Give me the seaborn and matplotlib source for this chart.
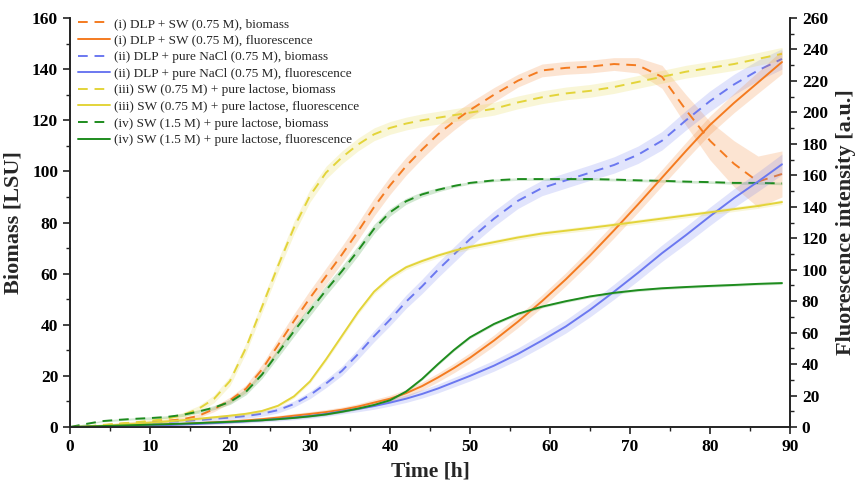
import numpy as np
import pandas as pd
import seaborn as sns
import matplotlib.pyplot as plt
from matplotlib.ticker import MultipleLocator

# time [h]
t = [0, 2, 4, 6, 8, 10, 12, 14, 16, 18, 20, 22, 24, 26, 28, 30, 32, 34, 36, 38,
     40, 42, 44, 46, 48, 50, 53, 56, 59, 62, 65, 68, 71, 74, 77, 80, 83, 86, 89]

# biomass [LSU] (left axis)
bio_i = [0, 0.2, 0.6, 1.2, 1.6, 1.9, 2.4, 3, 4.3, 7, 10.5, 15, 22.5, 32, 41.5, 50.5, 59, 67.5, 76.5, 86,
         94.5, 102, 108.5, 114.5, 119.5, 124, 130, 135.5, 139.5, 140.5, 141, 142, 141.5, 137, 124, 112, 103, 96, 99]
bio_ii = [0, 0.1, 0.4, 0.9, 1.3, 1.7, 2, 2.3, 2.7, 3.2, 3.7, 4.3, 5.2, 6.6, 9, 12.5, 17, 22, 28.5, 35.5,
          42, 49, 55, 61.5, 67.5, 73.5, 81.5, 88.5, 93.5, 96.5, 99.5, 102.5, 106.5, 112, 120, 127.5, 134, 139.5, 144]
bio_iii = [0, 0.2, 0.8, 1.3, 1.8, 2.4, 3.2, 4.6, 7, 11, 18, 31, 47, 63, 78, 90.5, 99.5, 105.5, 110.5, 114.5,
           117, 118.7, 120, 121, 122, 123, 124.5, 127, 129, 130.5, 131.5, 133, 135, 137, 139, 140.5, 142, 144, 146]
bio_iv = [0, 1.2, 2.3, 2.8, 3.2, 3.5, 3.9, 4.7, 6, 7.6, 9.8, 13.8, 20.5, 29, 37.5, 45.5, 53.5, 61, 69, 77.5,
          84, 88.3, 91, 92.8, 94.3, 95.5, 96.5, 97, 97, 97, 97, 96.8, 96.5, 96.3, 96, 95.8, 95.5, 95.5, 95.3]

# fluorescence [a.u.] (right axis)
fl_i = [0, 0.1, 0.3, 0.6, 0.9, 1.2, 1.6, 2, 2.5, 3, 3.5, 4.2, 5, 6, 7.2, 8.3, 9.5, 11, 13, 15.5,
        18, 21.5, 26, 31.5, 37.5, 44, 55, 67, 80, 94, 109, 125, 141.5, 158.5, 175.5, 192, 206, 219, 232]
fl_ii = [0, 0.1, 0.2, 0.4, 0.6, 0.9, 1.2, 1.6, 2, 2.5, 3, 3.6, 4.3, 5.1, 6, 7, 8.3, 10, 11.5, 13.3,
         15.5, 18, 21, 24.5, 28.5, 32.5, 39, 46.5, 55, 64, 74.5, 86, 98, 110.5, 122, 134, 145.5, 156, 167]
fl_iii = [0, 0.3, 0.8, 1.3, 2, 2.8, 3.5, 4.3, 5.2, 6.2, 7.2, 8.4, 10.2, 13.5, 19.5, 29, 43, 58, 73, 86,
          95, 101.5, 105.5, 109, 112, 114.5, 117.5, 120.5, 123, 124.8, 126.6, 128.5, 130.5, 132.5, 134.5, 136.5, 138.5, 140.5, 143]
fl_iv = [0, 0.3, 0.6, 0.9, 1.2, 1.5, 1.8, 2.1, 2.5, 2.9, 3.3, 3.8, 4.3, 5, 5.8, 6.8, 8, 9.7, 11.7, 14,
         17, 22.5, 30.5, 40, 49, 57, 65.5, 72, 76.5, 80, 83, 85.3, 87, 88.2, 89, 89.7, 90.3, 91, 91.5]

# standard deviation bands (half widths)
sd_bio_i = [0, 0.2, 0.3, 0.4, 0.5, 0.5, 0.6, 0.7, 0.8, 1, 1.2, 1.5, 2, 2.5, 2.8, 3, 3.2, 3.3, 3.4, 3.5,
            3.5, 3.5, 3.5, 3.5, 3.3, 3, 2.8, 2.5, 2.5, 2.5, 2.5, 2.5, 3, 4.5, 6, 7.5, 9, 10, 9]
sd_bio_ii = [0, 0.1, 0.2, 0.3, 0.4, 0.5, 0.5, 0.6, 0.6, 0.7, 0.8, 0.9, 1, 1.1, 1.2, 1.4, 1.6, 1.8, 2, 2.2,
             2.4, 2.6, 2.8, 3, 3, 3, 3, 3, 3, 3, 3, 3.2, 3.4, 3.6, 3.8, 4, 4, 4, 4]
sd_bio_iii = [0, 0.2, 0.3, 0.4, 0.5, 0.6, 0.8, 1, 1.2, 1.5, 1.8, 2, 2.2, 2.4, 2.5, 2.5, 2.5, 2.5, 2.5, 2.5,
              2.5, 2.5, 2.5, 2.5, 2.5, 2.5, 2.5, 2.5, 2.5, 2.5, 2.5, 2.5, 2.5, 2.5, 2.5, 2.5, 2.5, 2.5, 2.5]
sd_bio_iv = [0, 0.2, 0.3, 0.4, 0.4, 0.5, 0.5, 0.6, 0.7, 0.8, 1, 1.2, 1.5, 1.8, 2, 2, 2, 2, 2, 1.8,
             1.5, 1.2, 1, 0.8, 0.6, 0.5, 0.5, 0.5, 0.5, 0.5, 0.5, 0.5, 0.5, 0.5, 0.5, 0.5, 0.5, 0.5, 0.5]
sd_fl_i = [0, 0.1, 0.2, 0.3, 0.4, 0.5, 0.6, 0.7, 0.8, 0.9, 1, 1.1, 1.2, 1.3, 1.4, 1.5, 1.6, 1.7, 1.8, 2,
           2.2, 2.4, 2.6, 2.8, 3, 3.2, 3.5, 3.8, 4, 4.2, 4.5, 4.8, 5, 5.2, 5.5, 5.8, 6.2, 6.8, 7.5]
sd_fl_ii = [0, 0.1, 0.2, 0.3, 0.4, 0.5, 0.6, 0.7, 0.8, 0.9, 1, 1.1, 1.2, 1.3, 1.4, 1.5, 1.6, 1.7, 1.8, 2,
            2.2, 2.4, 2.6, 2.8, 3, 3.2, 3.5, 3.8, 4, 4.2, 4.5, 4.8, 5, 5.2, 5.5, 5.8, 6, 6.2, 6.5]
sd_fl_iii = [0, 0.1, 0.2, 0.3, 0.4, 0.5, 0.6, 0.7, 0.8, 0.9, 1, 1, 1, 1, 1.1, 1.2, 1.3, 1.4, 1.5, 1.5,
             1.5, 1.5, 1.5, 1.5, 1.5, 1.5, 1.5, 1.5, 1.5, 1.5, 1.5, 1.5, 1.5, 1.5, 1.5, 1.5, 1.5, 1.5, 1.5]
sd_fl_iv = [0, 0.1, 0.1, 0.2, 0.2, 0.3, 0.3, 0.3, 0.4, 0.4, 0.4, 0.5, 0.5, 0.5, 0.5, 0.6, 0.6, 0.6, 0.7, 0.7,
            0.8, 0.8, 0.8, 0.8, 0.8, 0.8, 0.8, 0.8, 0.8, 0.8, 0.8, 0.8, 0.8, 0.8, 0.8, 0.8, 0.8, 0.8, 0.8]

labels = ['(i) DLP + SW (0.75 M)', '(ii) DLP + pure NaCl (0.75 M)',
          '(iii) SW (0.75 M) + pure lactose', '(iv) SW (1.5 M) + pure lactose']
colors = ['#F47B20', '#6B78F0', '#E3D43A', '#1E8C1E']
biomass = [bio_i, bio_ii, bio_iii, bio_iv]
fluor = [fl_i, fl_ii, fl_iii, fl_iv]
sd_bio = [sd_bio_i, sd_bio_ii, sd_bio_iii, sd_bio_iv]
sd_fl = [sd_fl_i, sd_fl_ii, sd_fl_iii, sd_fl_iv]

sns.set_style('ticks')
plt.rcParams['font.family'] = ['Liberation Serif', 'DejaVu Serif']

fig = plt.figure(figsize=(8.61, 4.83), dpi=100)
ax = fig.add_axes([0.0813, 0.1159, 0.8362, 0.8468])
ax2 = ax.twinx()

handles = []
tt = np.array(t)
dash = (0, (5, 3.5))
for lab, c, b, f, sb, sf in zip(labels, colors, biomass, fluor, sd_bio, sd_fl):
    b = np.array(b); f = np.array(f); sb = np.array(sb); sf = np.array(sf)
    ax.fill_between(tt, b - sb, b + sb, color=c, alpha=0.2, lw=0)
    sns.lineplot(x=tt, y=b, ax=ax, color=c, lw=1.4, linestyle=dash)
    ax2.fill_between(tt, f - sf, f + sf, color=c, alpha=0.2, lw=0)
    sns.lineplot(x=tt, y=f, ax=ax2, color=c, lw=1.4)
    handles.append(plt.Line2D([], [], color=c, lw=1.4, linestyle=dash, label=lab + ', biomass'))
    handles.append(plt.Line2D([], [], color=c, lw=1.4, label=lab + ', fluorescence'))

ax.set_xlim(0, 90)
ax.set_ylim(0, 160)
ax2.set_ylim(0, 260)
ax.xaxis.set_major_locator(MultipleLocator(10))
ax.xaxis.set_minor_locator(MultipleLocator(5))
ax.yaxis.set_major_locator(MultipleLocator(20))
ax.yaxis.set_minor_locator(MultipleLocator(10))
ax2.yaxis.set_major_locator(MultipleLocator(20))
ax2.yaxis.set_minor_locator(MultipleLocator(10))

for a in (ax, ax2):
    a.spines['top'].set_visible(False)
    for s in a.spines.values():
        s.set_linewidth(1.2)
        s.set_color('#222222')
    a.tick_params(which='major', length=5, width=1.2, labelsize=12.5, colors='#222222')
    a.tick_params(which='minor', length=3, width=1.0, colors='#222222')
    for lbl in a.get_xticklabels() + a.get_yticklabels():
        lbl.set_fontweight('bold')
        lbl.set_color('black')

ax.set_xlabel('Time [h]', fontsize=15.5, fontweight='bold', labelpad=5)
ax.set_ylabel('Biomass [LSU]', fontsize=16, fontweight='bold', labelpad=6)
ax2.set_ylabel('Fluorescence intensity [a.u.]', fontsize=16, fontweight='bold', labelpad=6)

ax2.legend(handles=handles, loc='upper left', bbox_to_anchor=(0.0, 1.02), frameon=False,
           fontsize=9.5, handlelength=2.4, handletextpad=0.3, labelspacing=0.33, borderaxespad=0.2)

fig.savefig('out.png', dpi=100)
